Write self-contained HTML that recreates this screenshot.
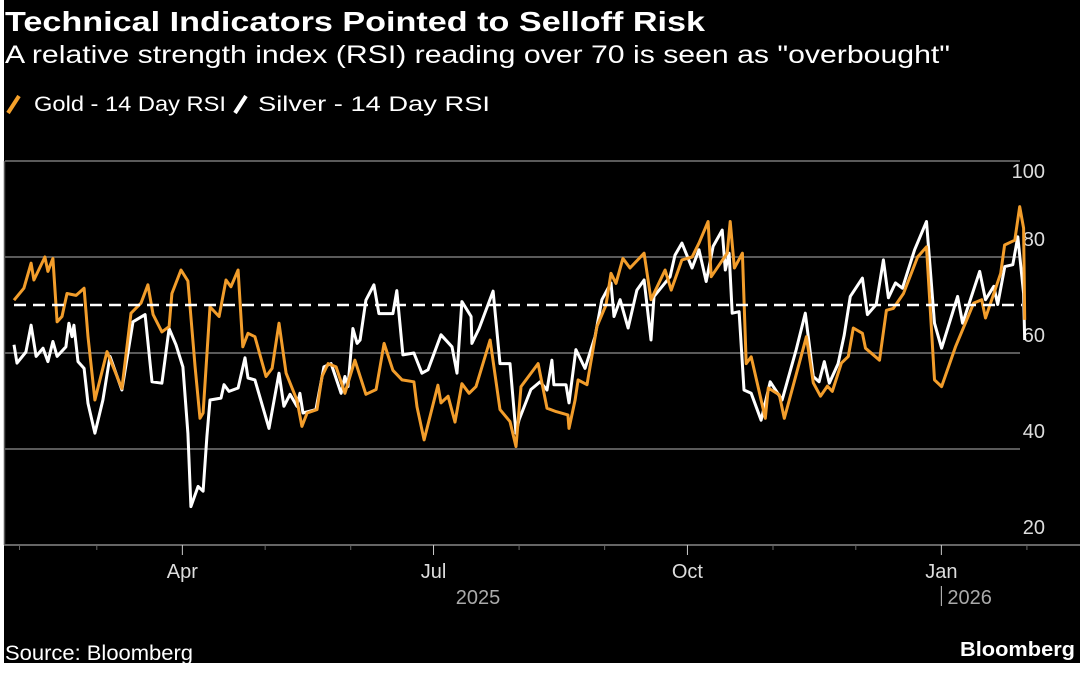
<!DOCTYPE html>
<html><head><meta charset="utf-8"><style>
html,body{margin:0;padding:0;background:#fff;width:1080px;height:673px;overflow:hidden}
svg{display:block}
text{font-family:"Liberation Sans Narrow","Liberation Sans",sans-serif}
</style></head><body>
<svg id="chart" width="1080" height="673" viewBox="0 0 1080 673">
<rect x="4" y="0" width="1076" height="663" fill="#000"/>
<text x="5" y="31" font-size="28" font-weight="bold" fill="#fff" textLength="700" lengthAdjust="spacingAndGlyphs">Technical Indicators Pointed to Selloff Risk</text>
<text x="5" y="63" font-size="25" fill="#fff" textLength="945" lengthAdjust="spacingAndGlyphs">A relative strength index (RSI) reading over 70 is seen as "overbought"</text>
<g>
<g>
<line x1="8" y1="113" x2="19" y2="96" stroke="#f5a12b" stroke-width="4"/>
<text x="34" y="111" font-size="21" fill="#fff" textLength="192" lengthAdjust="spacingAndGlyphs">Gold - 14 Day RSI</text>
</g>
<g>
<line x1="235" y1="113" x2="246" y2="96" stroke="#fff" stroke-width="4"/>
<text x="258" y="111" font-size="21" fill="#fff" textLength="232" lengthAdjust="spacingAndGlyphs">Silver - 14 Day RSI</text>
</g>
</g>
<g id="grid"></g>
<g id="series"></g>
<g id="xaxis"></g>
<text x="5" y="660" font-size="21" fill="#fff" textLength="188" lengthAdjust="spacingAndGlyphs">Source: Bloomberg</text>
<text x="1075" y="656" font-size="20" font-weight="bold" fill="#fff" text-anchor="end" textLength="115" lengthAdjust="spacingAndGlyphs">Bloomberg</text>
</svg>
<script>
const yTicks = [20, 40, 60, 80, 100];
const threshold = 70;
const monthTickDays = [2, 30, 61, 91, 122, 152, 183, 214, 244, 275, 305, 336, 367];
const monthLabels = [{day:61,label:"Apr"},{day:152,label:"Jul"},{day:244,label:"Oct"},{day:336,label:"Jan"}];
const majorTickDays = [61, 152, 244, 336];
const goldDays = [0,3.6,6.2,7.2,11.2,12.3,14.1,15.6,17.4,19.2,22.5,25.4,26.8,29.3,33.7,39.1,42.4,46,48.5,50.4,53.6,56.2,57.2,60.5,63,65.6,67.4,68.5,71,74.3,76.8,78.6,81.2,82.9,84.8,87.3,91.3,93.5,96,98.6,102.5,104.3,106.2,109.8,111.6,113.8,116.7,119.9,123.5,127.5,131.2,134.1,137.3,140.6,144.9,146,148.6,153.6,154.7,157.3,159.8,162.3,164.9,167.4,172.5,176.1,179.7,181.9,183.7,189.9,193.1,196.4,200.7,201.1,203.3,204.4,207.6,211.2,214.5,216.3,218.1,220.6,223.2,228.3,230.8,235.9,238.1,242,245.7,248.2,251.5,252.6,258.4,259.5,261,263.9,265.3,267.1,272.2,273.3,277.3,279.1,280.9,287.1,289.6,292.2,294.7,296.5,299.8,302.3,304.1,307.4,308.5,313.6,316.1,318.6,322.3,327.4,330.6,333.5,336.1,341.2,347.7,350.6,352,357.5,358.9,362.6,364.4,365.8,366.2];
const goldRSI = [71,73.5,78.7,75.2,80,77,79.7,66.5,67.6,72.4,72,73.5,63.4,50.2,60.3,52.6,68.3,70.4,74.2,68,64.4,65.5,72.4,77.3,75,57.1,46.4,47.5,69.6,67.6,75.2,73.8,77.3,61.3,64.1,63.4,55.1,56.8,66.2,55.8,50.2,44.7,47.5,48.2,55.1,57.8,57.1,51.6,58.5,51.4,52.4,62,56.4,54.4,54,48.8,41.9,53.3,49.6,51,45.6,53.6,51.6,53,62.7,48.2,45.7,40.5,53,57.8,48.5,47.8,47.1,44.3,50.2,54.4,53.4,65.5,70,76.6,74.5,79.7,77.7,80.8,71.1,77.3,73.1,79.4,80,82.9,87.4,75.9,80.8,87.4,77.7,80.8,57.8,59.2,46.4,52.7,51.3,46.4,50.2,63.4,53.8,51,53.1,52,57.9,59.3,65.2,64.1,61,58.5,68.9,69.3,72.4,80,82.1,54.4,53,61.4,70.4,71.1,67.3,76.6,82.5,83.5,90.5,86,66.9];
const silverDays = [0,1.1,4.3,6.2,8,10.5,12.3,14.1,15.6,18.8,19.9,21,21.7,23.2,25.4,26.8,29.3,32.2,34.8,39.1,43.1,47.5,50,53.6,56.2,58.7,61.2,63,64.1,66.7,68.5,69.9,71,75,76.1,77.9,81.2,83.7,84.8,87.3,92.4,96,97.8,100,102.5,103.6,104.7,109.4,112.3,114.9,118.5,119.9,121,122.8,124.3,125.4,127.5,130.4,132.2,137.3,138.7,140.9,144.9,147.8,150,154.7,158.7,160.5,162.3,165.6,165.9,168.5,173.6,176.1,179.7,181.9,183,187.3,190.6,193.1,194.9,195.6,200,201.1,203.6,206.9,210.5,213,216.3,217.4,219.6,222.5,225.7,228.3,230.8,231.9,237.7,239.5,242,245.7,248.2,250.8,253.3,256.6,257.7,259.1,260.2,262.7,264.5,267.1,270.7,274,278.3,283.4,286.7,289.6,291.7,293.6,295.4,298.6,300.8,303,307.4,309.2,312.4,315,316.8,319.4,321.9,326.3,330.6,333.5,336.1,341.9,343.7,349.9,352,355,356.4,359,361.9,363.7,365.8,366.2];
const silverRSI = [61.7,57.9,60.2,65.8,59.3,61,58.2,62.4,59.3,61.3,66.2,63.4,65.8,58.2,56.8,49.5,43.3,50.2,59.3,52.3,66.5,68,54,53.7,65.1,61.7,57.1,43.3,28,32.2,31.2,42.6,50.2,50.6,53.4,52,52.7,59,54.8,54.4,44.3,55.8,48.9,51.4,48.9,51.6,47.5,48.2,57.1,57.8,51.6,55.1,53,65.1,62,62.7,71,74.2,68.2,68.2,73,59.6,60,55.8,56.5,63.8,61.3,55.8,70.7,67.6,62,65.1,72.9,57.8,57.8,43.3,46.1,52.4,54,52.3,58.5,53.4,53.4,49.6,60.7,56.8,63.4,71.1,74.6,67.6,71.1,65.2,73.1,75.2,62.7,71.8,75.9,80.4,82.9,77.7,81.5,74.9,82.2,85.6,77.3,80.8,68.3,68.6,52.3,51.6,46,54,50.2,60.7,68.3,55.1,54,58.2,53.7,57.8,63.7,71.8,75.6,68,70.1,79.4,71.5,74.6,73.5,81.5,87.4,66.2,61,71.8,66.2,77,71.1,73.9,70.1,78,78.4,84.2,72.4,62.7];

const NS = "http://www.w3.org/2000/svg";
const X0 = 14, PX_PER_DAY = 2.76;
const Y20 = 545, PX_PER_UNIT = 4.8;
function xScale(d){ return X0 + d * PX_PER_DAY; }
function yScale(v){ return Y20 - (v - 20) * PX_PER_UNIT; }
function mk(tag, attrs, parent){ const e = document.createElementNS(NS, tag); for (const k in attrs) e.setAttribute(k, attrs[k]); parent.appendChild(e); return e; }

const grid = document.getElementById('grid');
mk('line', {x1:4.5, y1:yScale(100), x2:4.5, y2:Y20, stroke:'#555', 'stroke-width':1.5}, grid);
yTicks.forEach(t => {
  if (t > 20) {
    const l = mk('line', {x1:5, x2:1020, y1:yScale(t), y2:yScale(t), stroke:'#5a5a5a', 'stroke-width':2}, grid);
    
    
  }
  const ty = t === 100 ? 178 : yScale(t) - 11;
  const lab = mk('text', {x:1045, y:ty, 'font-size':20, fill:'#ddd', 'text-anchor':'end'}, grid);
  lab.textContent = t;
  
  
});

const series = document.getElementById('series');
function path(days, vals, color, name){
  const d = days.map((dd,i) => (i ? 'L' : 'M') + xScale(dd).toFixed(1) + ' ' + yScale(vals[i]).toFixed(1)).join(' ');
  const p = mk('path', {d:d, fill:'none', stroke:color, 'stroke-width':3, 'stroke-linejoin':'round'}, series);
  
  
}
path(silverDays, silverRSI, '#ffffff', 'silver-rsi-line');
path(goldDays, goldRSI, '#f29d2b', 'gold-rsi-line');
const th = mk('line', {x1:14, x2:1022, y1:yScale(threshold), y2:yScale(threshold), stroke:'#fff', 'stroke-width':2.5, 'stroke-dasharray':'12 7'}, series);



const xa = document.getElementById('xaxis');
const axl = mk('line', {x1:4, x2:1080, y1:Y20, y2:Y20, stroke:'#666', 'stroke-width':2}, xa);


monthTickDays.forEach(d => {
  const major = majorTickDays.includes(d);
  const tk = mk('line', {x1:xScale(d), x2:xScale(d), y1:Y20, y2:Y20 + (major ? 10 : 5), stroke:major ? '#ccc' : '#666', 'stroke-width':1}, xa);
  
  
});
monthLabels.forEach(m => {
  const t = mk('text', {x:xScale(m.day), y:578, 'font-size':20, fill:'#ddd', 'text-anchor':'middle'}, xa);
  t.textContent = m.label;
  
  
});
const y25 = mk('text', {x:478, y:604, 'font-size':20, fill:'#aaa', 'text-anchor':'middle'}, xa);
y25.textContent = '2025';


const sep = mk('line', {x1:xScale(336), x2:xScale(336), y1:586, y2:606, stroke:'#ccc', 'stroke-width':1}, xa);


const y26 = mk('text', {x:xScale(336)+6, y:604, 'font-size':20, fill:'#aaa'}, xa);
y26.textContent = '2026';


</script>
</body></html>
